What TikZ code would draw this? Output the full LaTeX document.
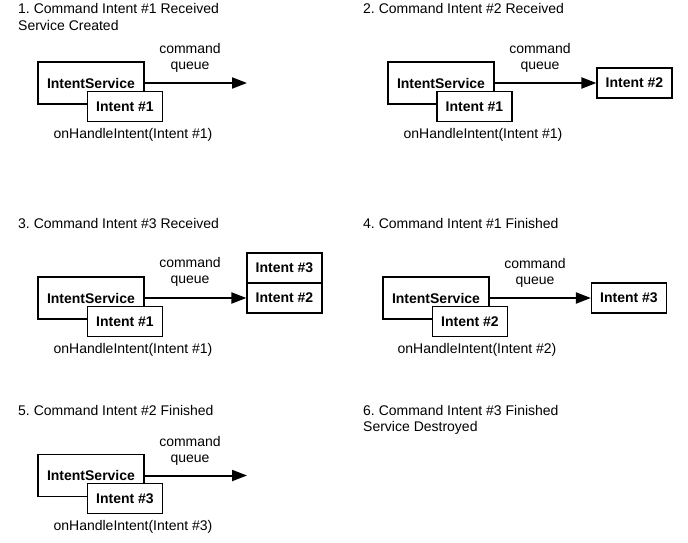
\documentclass[tikz,border=0pt]{standalone}
\usepackage{fontspec}
\setmainfont{Liberation Sans}
\usetikzlibrary{arrows.meta}
\frenchspacing
\begin{document}
\begin{tikzpicture}[x=1pt,y=-1pt,
 every node/.style={inner sep=0pt},
 ttl/.style={anchor=north west, align=left, font=\fontsize{14}{16.5}\selectfont},
 svcbox/.style={draw, line width=1.2pt, fill=white, minimum width=106pt, minimum height=42pt, font=\fontsize{14}{16}\selectfont\bfseries},
 ibox/.style={draw, line width=1.2pt, fill=white, minimum width=75pt, minimum height=30pt, font=\fontsize{14}{16}\selectfont\bfseries},
 cq/.style={anchor=north, align=center, font=\fontsize{14}{16}\selectfont},
 ohi/.style={font=\fontsize{14}{16}\selectfont},
 qarrow/.style={-{Triangle[length=15pt,width=11pt]}, line width=2pt}]
\path[use as bounding box, fill=white] (0,0) rectangle (688,543);

% Panel 1
\node[ttl] (t1) at (18,3.5) {1. Command Intent \#1 Received\\Service Created};
\node[svcbox] (s1) at (91,83) {IntentService};
\node[ibox] (a1) at (125,106.5) {Intent \#1};
\coordinate (e1) at (247,83);
\draw[qarrow] (s1.east) -- (e1);
\node[cq] (c1) at (190,43) {command\\queue};
\node[ohi] (h1) at (133,135) {onHandleIntent(Intent \#1)};

% Panel 2
\node[ttl] (t2) at (363,3.5) {2. Command Intent \#2 Received};
\node[svcbox] (s2) at (441,83) {IntentService};
\node[ibox] (a2) at (474.5,106.5) {Intent \#1};
\node[ibox] (q2) at (634.5,83) {Intent \#2};
\draw[qarrow] (s2.east) -- (q2.west);
\node[cq] (c2) at (540,43) {command\\queue};
\node[ohi] (h2) at (483,135) {onHandleIntent(Intent \#1)};

% Panel 3
\node[ttl] (t3) at (18,218) {3. Command Intent \#3 Received};
\node[svcbox] (s3) at (91,298) {IntentService};
\node[ibox] (a3) at (125,321.5) {Intent \#1};
\node[ibox] (q3b) at (284.5,298) {Intent \#2};
\node[ibox] (q3a) at (284.5,268) {Intent \#3};
\draw[qarrow] (s3.east) -- (q3b.west);
\node[cq] (c3) at (190,257.5) {command\\queue};
\node[ohi] (h3) at (133,350) {onHandleIntent(Intent \#1)};

% Panel 4
\node[ttl] (t4) at (363,218) {4. Command Intent \#1 Finished};
\node[svcbox] (s4) at (436,298) {IntentService};
\node[ibox] (a4) at (470,321.5) {Intent \#2};
\node[ibox] (q4) at (629,298) {Intent \#3};
\draw[qarrow] (s4.east) -- (q4.west);
\node[cq] (c4) at (535,258) {command\\queue};
\node[ohi] (h4) at (477,350) {onHandleIntent(Intent \#2)};

% Panel 5
\node[ttl] (t5) at (18,405) {5. Command Intent \#2 Finished};
\node[svcbox] (s5) at (91,475.5) {IntentService};
\node[ibox] (a5) at (125,498.5) {Intent \#3};
\coordinate (e5) at (247,475.5);
\draw[qarrow] (s5.east) -- (e5);
\node[cq] (c5) at (190,436) {command\\queue};
\node[ohi] (h5) at (133,527) {onHandleIntent(Intent \#3)};

% Panel 6
\node[ttl] (t6) at (363,405) {6. Command Intent \#3 Finished\\Service Destroyed};
\end{tikzpicture}
\end{document}
